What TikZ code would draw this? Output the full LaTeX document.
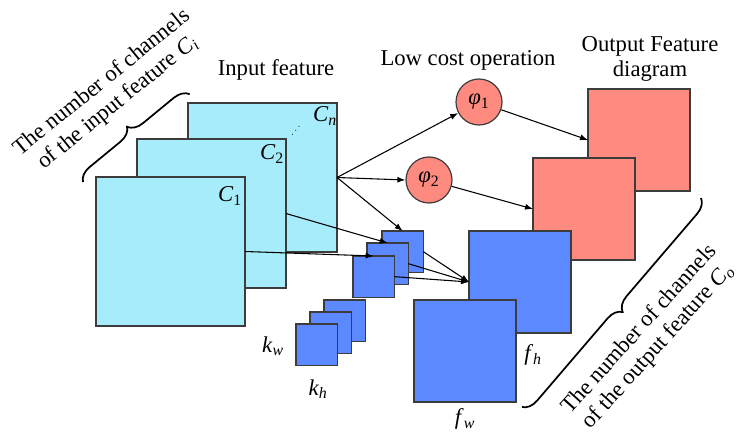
\documentclass[tikz,border=0pt]{standalone}
\usepackage{fontspec}
\setmainfont{Liberation Serif}
\newfontfamily\timesfont{Liberation Serif}
\usetikzlibrary{arrows.meta, positioning, decorations.pathreplacing}

\definecolor{incyan}{HTML}{A6ECFA}
\definecolor{kblue}{HTML}{5C89FF}
\definecolor{outred}{HTML}{FF8A80}
\definecolor{edgegray}{HTML}{3C3C3C}
\newcommand{\sym}[2]{\textit{#1}\textsubscript{#2}}

\begin{document}
\begin{tikzpicture}[x=0.75pt, y=-0.75pt, >={Latex[length=6pt,width=4.5pt]},
    font=\timesfont\fontsize{17}{19}\selectfont]
    % Styles
    \tikzset{
      sq/.style={draw=edgegray, line width=0.9pt, anchor=north west, inner sep=0pt, outer sep=0pt},
      insq/.style={sq, fill=incyan, minimum size=111.75pt},
      kern/.style={sq, fill=kblue, minimum size=31pt},
      fmap/.style={sq, fill=kblue, minimum size=76.5pt},
      outsq/.style={sq, fill=outred, minimum size=76.5pt},
      op/.style={circle, draw=edgegray, line width=0.9pt, fill=outred, minimum size=34.5pt, inner sep=0pt},
      arrow/.style={line width=0.8pt, ->},
      brc/.style={line width=1.3pt, decorate, decoration={brace, amplitude=11pt}},
      lbl/.style={inner sep=0pt}
    }
    \useasboundingbox (0,0) rectangle (738,434);

    % Input feature
    \node[insq] (c3) at (188,103) {};
    \node[insq] (c2) at (137,139) {};
    \node[insq] (c1) at (96,177) {};
    \node[lbl] (cnlab) at (325,116) {\sym{C}{\textit{n}}};
    \node[lbl, rotate=50, font=\scriptsize] (dots) at (296,131) {$\cdots$};
    \node[lbl] (c2lab) at (272,154) {\sym{C}{2}};
    \node[lbl] (c1lab) at (230,196) {\sym{C}{1}};

    % Kernels
    \node[kern] (kb) at (382,231) {};
    \node[kern] (km) at (367,243) {};
    \node[kern] (kf) at (353,256) {};
    \node[kern] (lb) at (324,300) {};
    \node[kern] (lm) at (310,312) {};
    \node[kern] (lf) at (296,324) {};
    \node[lbl] (kwlab) at (273,346) {\sym{k}{\textit{w}}};
    \node[lbl] (khlab) at (318,389) {\sym{k}{\textit{h}}};

    % Low cost operations
    \node[op] (phi1) at (479,102) {\sym{φ}{1}};
    \node[op] (phi2) at (429,180) {\sym{φ}{2}};

    % Output feature maps
    \node[outsq] (rb) at (588,89) {};
    \node[outsq] (rf) at (533,158) {};
    \node[fmap] (fb) at (469,231) {};
    \node[fmap] (ff) at (414,300) {};
    \node[lbl] (fhlab) at (533,355) {\sym{f}{\textit{h}}};
    \node[lbl] (fwlab) at (465,419) {\sym{f}{\textit{w}}};

    % Titles
    \node[lbl, anchor=base] (intitle) at (276,76) {Input feature};
    \node[lbl, anchor=base] (optitle) at (468,66) {Low cost operation};
    \node[lbl, align=center] (outtitle) at (650,59) {Output Feature\\diagram};

    % Paths
    \draw[arrow] (c3.east) -- (phi1);
    \draw[arrow] (c3.east) -- (phi2.west);
    \draw[arrow] (c3.east) -- (kb.north);
    \draw[arrow] (c2.east) -- (km.north);
    \draw[arrow] (c1.east) -- (kf.north);
    \draw[arrow] (kb.east) -- (fb.west);
    \draw[arrow] (km.east) -- (fb.west);
    \draw[arrow] (kf.east) -- (fb.west);
    \draw[arrow] (phi1) -- (rb.west);
    \draw[arrow] (phi2) -- (rf.west);

    % Braces
    \coordinate (inlow) at (83,182);
    \coordinate (inhigh) at (190,94);
    \coordinate (outhigh) at (701,198);
    \coordinate (outlow) at (522,407);
    \draw[brc] (inlow) -- (inhigh);
    \draw[brc] (outhigh) -- (outlow);
    \node[lbl, align=center, rotate=39] (intext) at (110,93)
      {The number of channels\\of the input feature \sym{C}{\textit{i}}};
    \node[lbl, align=center, rotate=48] (outtext) at (649,338)
      {The number of channels\\of the output feature \sym{C}{\textit{o}}};
  \end{tikzpicture}
\end{document}
